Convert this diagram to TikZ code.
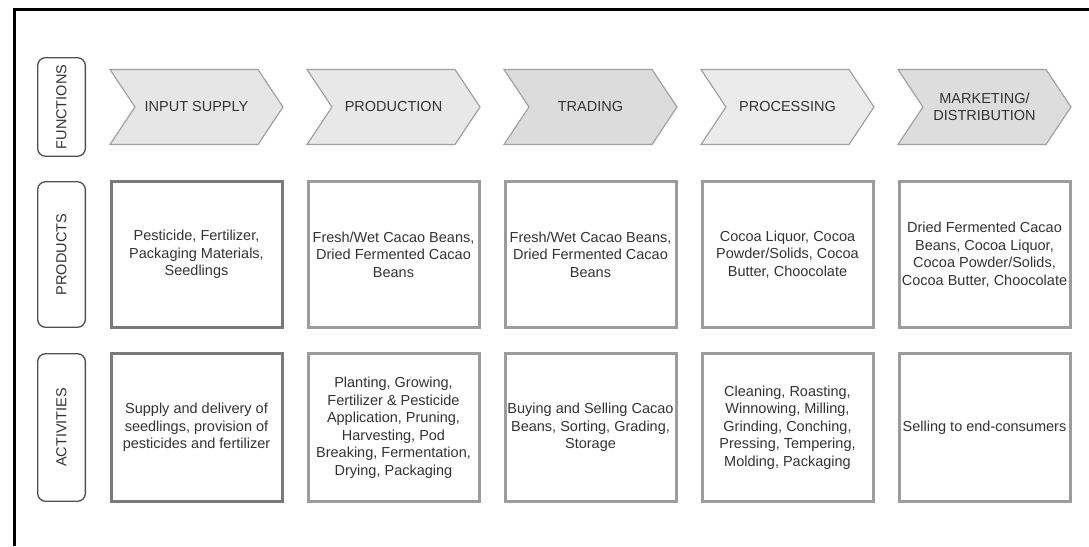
\documentclass[tikz,border=0pt]{standalone}
\usepackage{fontspec}
\setmainfont{Liberation Sans}
\definecolor{txtc}{HTML}{333333}
\definecolor{labc}{HTML}{505050}
\definecolor{chevb}{HTML}{A0A0A0}
\definecolor{boxa}{HTML}{7A7A7A}
\definecolor{boxb}{HTML}{9C9C9C}
\definecolor{fa}{HTML}{E6E6E6}
\definecolor{fb}{HTML}{E8E8E8}
\definecolor{fc}{HTML}{DCDCDC}
\definecolor{fd}{HTML}{EBEBEB}
\definecolor{fe}{HTML}{DDDDDD}
\begin{document}
\begin{tikzpicture}[x=1pt,y=-1pt,
  font=\fontsize{14.5}{17.5}\selectfont,
  txt/.style={text=txtc, align=center, inner sep=0pt},
  lab/.style={draw=labc, line width=1.3pt, rounded corners=8pt, text=txtc,
    rotate=90, inner sep=0pt, minimum height=47.7pt},
  chev/.style={draw=chevb, line width=1.2pt, line join=miter},
  cbox/.style={draw=boxb, line width=3pt, text=txtc, align=center,
    inner sep=0pt, minimum width=171pt},
  cboxa/.style={cbox, draw=boxa},
  prod/.style={minimum height=146pt},
  act/.style={minimum height=148pt}]
\useasboundingbox (0,0) rectangle (1089,546);
\fill[white] (0,0) rectangle (1089,546);
% outer frame (cropped)
\draw[line width=3pt, line join=miter] (14.2,546) -- (14.2,9.7) -- (1089,9.7);
% row labels
\node[lab, minimum width=98.6pt] (lf) at (61.5,107) {FUNCTIONS};
\node[lab, minimum width=145.6pt] (lp) at (61.5,254.5) {PRODUCTS};
\node[lab, minimum width=147.6pt] (la) at (61.5,427.5) {ACTIVITIES};
% chevrons
\foreach \i/\col/\name/\txt in {0/fa/f1/{INPUT SUPPLY},1/fb/f2/{PRODUCTION},2/fc/f3/{TRADING},3/fd/f4/{PROCESSING},4/fe/f5/{MARKETING/\\DISTRIBUTION}}{
  \pgfmathsetmacro{\xo}{110+197*\i}
  \draw[chev, fill=\col] (\xo,69.5) -- (\xo+148,69.5) -- (\xo+173,107) -- (\xo+148,144.5) -- (\xo,144.5) -- (\xo+25,107) -- cycle;
  \node[txt] (\name) at (\xo+86.5,107) {\txt};
}
% products
\node[cboxa, prod] (p1) at (196.5,254.5) {Pesticide, Fertilizer,\\Packaging Materials,\\Seedlings};
\node[cbox, prod] (p2) at (393.5,254.5) {Fresh/Wet Cacao Beans,\\Dried Fermented Cacao\\Beans};
\node[cbox, prod] (p3) at (590.5,254.5) {Fresh/Wet Cacao Beans,\\Dried Fermented Cacao\\Beans};
\node[cbox, prod] (p4) at (787.5,254.5) {Cocoa Liquor, Cocoa\\Powder/Solids, Cocoa\\Butter, Choocolate};
\node[cbox, prod] (p5) at (984.5,254.5) {Dried Fermented Cacao\\Beans, Cocoa Liquor,\\Cocoa Powder/Solids,\\Cocoa Butter, Choocolate};
% activities
\node[cboxa, act] (a1) at (196.5,427.5) {Supply and delivery of\\seedlings, provision of\\pesticides and fertilizer};
\node[cbox, act] (a2) at (393.5,427.5) {Planting, Growing,\\Fertilizer \& Pesticide\\Application, Pruning,\\Harvesting, Pod\\Breaking, Fermentation,\\Drying, Packaging};
\node[cbox, act] (a3) at (590.5,427.5) {Buying and Selling Cacao\\Beans, Sorting, Grading,\\Storage};
\node[cbox, act] (a4) at (787.5,427.5) {Cleaning, Roasting,\\Winnowing, Milling,\\Grinding, Conching,\\Pressing, Tempering,\\Molding, Packaging};
\node[cbox, act] (a5) at (984.5,427.5) {Selling to end-consumers};
\end{tikzpicture}
\end{document}
